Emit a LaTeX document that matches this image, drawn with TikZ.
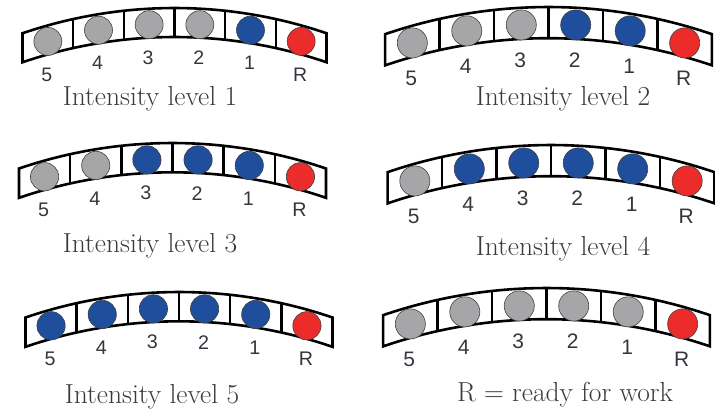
\documentclass[tikz,border=0pt]{standalone}
\usepackage{fontspec}
\usepackage{xcolor}
\newfontfamily\labelfont{Liberation Sans}
\definecolor{lampgray}{HTML}{A6A6A8}
\definecolor{lampblue}{HTML}{1F4E9C}
\definecolor{lampred}{HTML}{EC2B2B}
\definecolor{labelink}{HTML}{33363D}
\definecolor{captionink}{HTML}{3A3A3A}

\begin{document}
\begin{tikzpicture}[x=1pt,y=1pt,
        barline/.style={draw=black,line width=2.6pt},
        lamp/.style={draw=black!75,line width=0.6pt},
        caption/.style={anchor=base,text=captionink,font=\fontsize{27.5}{30}\selectfont}]
        \useasboundingbox (0,0) rectangle (715,408);
        \pgfmathsetmacro{\bandr}{470}
        \pgfmathsetmacro{\cellw}{304/6}
        \pgfmathsetmacro{\endang}{acos(152/\bandr)}
        \pgfmathsetmacro{\innery}{\bandr*sin(\endang)-29}

        \foreach \pnl/\cx/\ty/\sc/\lit/\capx/\capy/\captext in {
                1/174.5/8/1/1/150/106/{Intensity level 1},
                2/548.5/7/1.075/2/563/106/{Intensity level 2},
                3/172.5/143/1.01/3/150/252/{Intensity level 3},
                4/551/145/1.075/4/563/255/{Intensity level 4},
                5/179/292/1.01/5/152/403/{Intensity level 5},
                6/546.5/288/1.075/0/565/401/{R = ready for work}}
        {
            \pgfmathsetmacro{\cy}{408-\ty-\bandr*\sc}
            \pgfmathsetmacro{\fs}{19.5*\sc}
            \begin{scope}[shift={(\cx,\cy)},scale=\sc]
                % the curved band, cells with upright walls
                \draw[barline] (180-\endang:\bandr) arc[start angle=180-\endang,end angle=\endang,radius=\bandr]
                    -- (152,\innery) arc[start angle=\endang,end angle=180-\endang,radius=\bandr] -- cycle;
                \foreach \j in {-2,...,2} {
                    \pgfmathsetmacro{\wx}{\j*\cellw}
                    \pgfmathsetmacro{\wy}{\bandr*sin(acos(\wx/\bandr))}
                    \draw[barline] (\wx,\wy) -- (\wx,\wy-29);
                }

                % lamps and numbers
                \foreach \k/\name in {0/5,1/4,2/3,3/2,4/1,5/R} {
                    \pgfmathsetmacro{\lx}{(\k-2.5)*\cellw}
                    \pgfmathsetmacro{\ly}{\bandr*sin(acos(\lx/\bandr))-16}
                    \def\col{lampblue}
                    \ifnum\k<\numexpr5-\lit\relax \def\col{lampgray}\fi
                    \ifnum\k=5 \def\col{lampred}\fi
                    \filldraw[lamp,fill=\col] (\lx,\ly) circle (14);
                    \node[text=labelink,font=\labelfont\fontsize{\fs}{\fs}\selectfont] (num-\pnl-\k)
                        at (\lx-1,\ly-33) {\name};
                }
            \end{scope}
            \node[caption] (cap-\pnl) at (\capx,{408-\capy}) {\captext};
        }
    \end{tikzpicture}
\end{document}
